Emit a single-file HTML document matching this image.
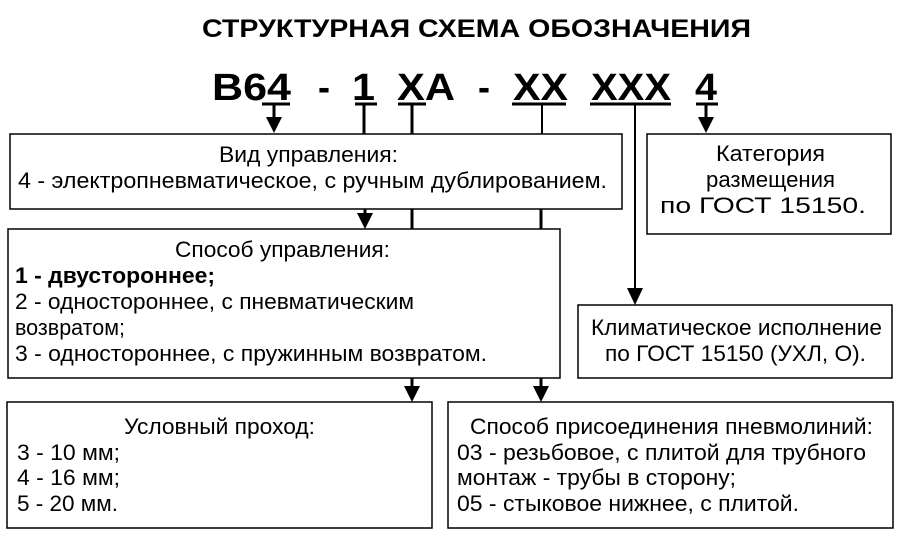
<!DOCTYPE html>
<html><head><meta charset="utf-8"><style>
html,body{margin:0;padding:0;background:#fff;}
svg{display:block;}
text{font-family:"Liberation Sans",Arial,sans-serif;fill:#000;}
</style></head><body>
<svg width="900" height="546" viewBox="0 0 900 546" xmlns="http://www.w3.org/2000/svg">
<text x="202" y="37" font-size="25" font-weight="bold" textLength="549" lengthAdjust="spacingAndGlyphs">СТРУКТУРНАЯ СХЕМА ОБОЗНАЧЕНИЯ</text>
<g font-size="38" font-weight="bold">
<text x="212" y="100" textLength="79" lengthAdjust="spacingAndGlyphs">B64</text>
<text x="318" y="100" textLength="12" lengthAdjust="spacingAndGlyphs">-</text>
<text x="352" y="100" textLength="23" lengthAdjust="spacingAndGlyphs">1</text>
<text x="397" y="100" textLength="58" lengthAdjust="spacingAndGlyphs">XA</text>
<text x="478" y="100" textLength="12" lengthAdjust="spacingAndGlyphs">-</text>
<text x="513" y="100" textLength="55" lengthAdjust="spacingAndGlyphs">XX</text>
<text x="591" y="100" textLength="80" lengthAdjust="spacingAndGlyphs">XXX</text>
<text x="695" y="100" textLength="22" lengthAdjust="spacingAndGlyphs">4</text>
</g>
<g stroke="#000" stroke-width="3">
<line x1="262" y1="104" x2="290" y2="104"/>
<line x1="355" y1="104" x2="377" y2="104"/>
<line x1="398" y1="104" x2="426" y2="104"/>
<line x1="512" y1="104" x2="566" y2="104"/>
<line x1="590" y1="104" x2="671" y2="104"/>
<line x1="696" y1="104" x2="718" y2="104"/>
<line x1="274" y1="104" x2="274" y2="118"/>
<line x1="364" y1="104" x2="364" y2="134"/>
<line x1="412" y1="104" x2="412" y2="134"/>
<line x1="706" y1="104" x2="706" y2="118"/>
<line x1="365" y1="209" x2="365" y2="215"/>
<line x1="412" y1="209" x2="412" y2="229"/>
<line x1="541" y1="209" x2="541" y2="229"/>
<line x1="412" y1="378" x2="412" y2="388"/>
<line x1="541" y1="378" x2="541" y2="388"/>
</g>
<g stroke="#000" stroke-width="2">
<line x1="542" y1="104" x2="542" y2="134"/>
<line x1="635" y1="104" x2="635" y2="290"/>
</g>
<g fill="#000">
<polygon points="266,117 282,117 274,133"/>
<polygon points="698,117 714,117 706,133"/>
<polygon points="357,213 373,213 365,229"/>
<polygon points="627,288 643,288 635,305"/>
<polygon points="404,386 420,386 412,402"/>
<polygon points="533,386 549,386 541,402"/>
</g>
<g fill="none" stroke="#000" stroke-width="1.5">
<rect x="10" y="134" width="612" height="75"/>
<rect x="647" y="134" width="244" height="100"/>
<rect x="8" y="229" width="552" height="149"/>
<rect x="578" y="305" width="314" height="73"/>
<rect x="7" y="402" width="425" height="126"/>
<rect x="448" y="402" width="445" height="126"/>
</g>
<g font-size="22">
<text x="219" y="162" textLength="179" lengthAdjust="spacingAndGlyphs">Вид управления:</text>
<text x="18" y="188" textLength="589" lengthAdjust="spacingAndGlyphs">4 - электропневматическое, с ручным дублированием.</text>
<text x="716" y="161" textLength="109" lengthAdjust="spacingAndGlyphs">Категория</text>
<text x="706" y="187" textLength="129" lengthAdjust="spacingAndGlyphs">размещения</text>
<text x="660" y="213" textLength="206" lengthAdjust="spacingAndGlyphs">по ГОСТ 15150.</text>
<text x="175" y="257" textLength="215" lengthAdjust="spacingAndGlyphs">Способ управления:</text>
<text x="15" y="283" font-weight="bold" textLength="200" lengthAdjust="spacingAndGlyphs">1 - двустороннее;</text>
<text x="15" y="309" textLength="399" lengthAdjust="spacingAndGlyphs">2 - одностороннее, с пневматическим</text>
<text x="15" y="335" textLength="110" lengthAdjust="spacingAndGlyphs">возвратом;</text>
<text x="15" y="361" textLength="472" lengthAdjust="spacingAndGlyphs">3 - одностороннее, с пружинным возвратом.</text>
<text x="591" y="335" textLength="291" lengthAdjust="spacingAndGlyphs">Климатическое исполнение</text>
<text x="605" y="361" textLength="261" lengthAdjust="spacingAndGlyphs">по ГОСТ 15150 (УХЛ, О).</text>
<text x="124" y="434" textLength="191" lengthAdjust="spacingAndGlyphs">Условный проход:</text>
<text x="17" y="460" textLength="103" lengthAdjust="spacingAndGlyphs">3 - 10 мм;</text>
<text x="17" y="485" textLength="103" lengthAdjust="spacingAndGlyphs">4 - 16 мм;</text>
<text x="17" y="511" textLength="101" lengthAdjust="spacingAndGlyphs">5 - 20 мм.</text>
<text x="470" y="434" textLength="403" lengthAdjust="spacingAndGlyphs">Способ присоединения пневмолиний:</text>
<text x="457" y="460" textLength="409" lengthAdjust="spacingAndGlyphs">03 - резьбовое, с плитой для трубного</text>
<text x="457" y="485" textLength="279" lengthAdjust="spacingAndGlyphs">монтаж - трубы в сторону;</text>
<text x="457" y="511" textLength="342" lengthAdjust="spacingAndGlyphs">05 - стыковое нижнее, с плитой.</text>
</g>
</svg>
</body></html>
